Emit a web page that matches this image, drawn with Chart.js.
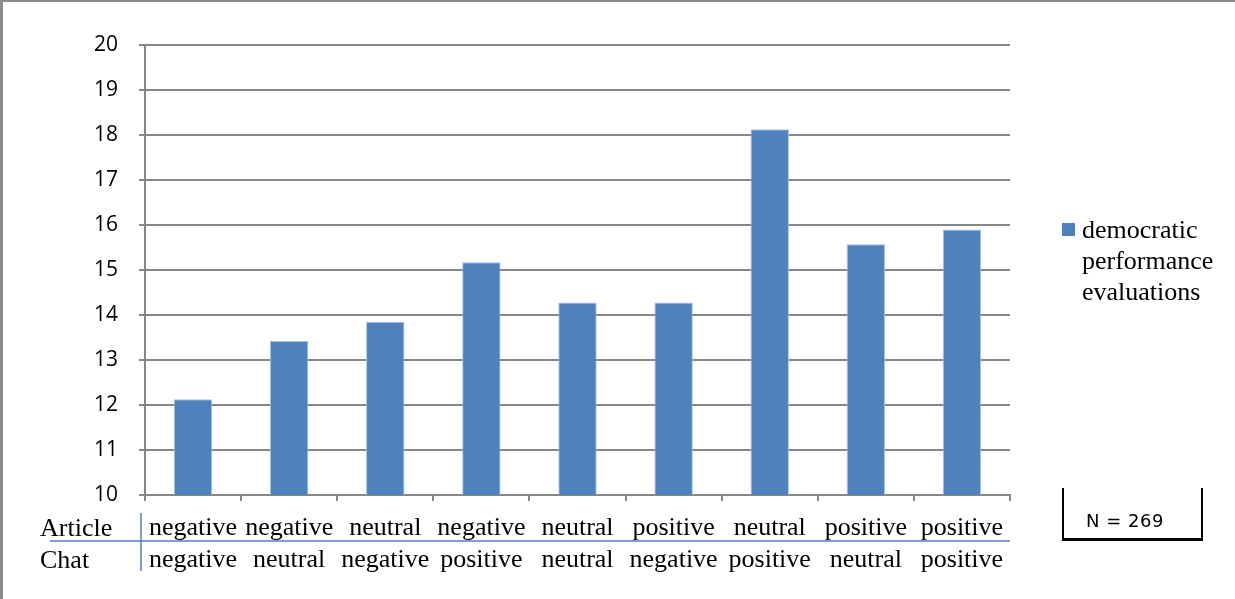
<!DOCTYPE html>
<html>
<head>
<meta charset="utf-8">
<script src="https://cdn.jsdelivr.net/npm/chart.js@4/dist/chart.umd.min.js"></script>
<style>
  html, body { margin: 0; padding: 0; background: #fff; }
  #wrap {
    position: relative; width: 1235px; height: 599px; overflow: hidden;
    box-sizing: border-box; border-left: 3px solid #8c8c8c; border-top: 2px solid #8c8c8c;
  }
  #chart { position: absolute; left: -3px; top: -2px; }
  #nbox {
    position: absolute; left: 1059px; top: 486px; width: 141px; height: 53px;
    box-sizing: border-box; border-left: 2px solid #000; border-right: 2px solid #000;
    border-bottom: 3px solid #000;
    font-family: "DejaVu Sans", sans-serif; font-size: 18px; color: #000;
  }
  #nbox span { position: absolute; left: 22px; top: 22px; letter-spacing: 0.5px; }
</style>
</head>
<body>
<div id="wrap">
  <canvas id="chart" width="1235" height="599"></canvas>
  <div id="nbox"><span>N = 269</span></div>
</div>
<script>
// Condition labels: article tone (first line) and chat tone (second line)
const articleTone = ['negative', 'negative', 'neutral', 'negative', 'neutral', 'positive', 'neutral', 'positive', 'positive'];
const chatTone    = ['negative', 'neutral', 'negative', 'positive', 'neutral', 'negative', 'positive', 'neutral', 'positive'];
const rowNames = ['Article', 'Chat'];

// Mean democratic performance evaluation per condition
const seriesName = 'democratic performance evaluations';
const evaluations = [12.13, 13.42, 13.85, 15.17, 14.28, 14.28, 18.13, 15.57, 15.9];

const yMin = 10, yMax = 20;
const barBlue = '#4F81BD';
const lineBlue = '#4F81BD';
const gridGray = '#878787';
const serif = '"Liberation Serif", "Times New Roman", serif';

const labels = articleTone.map((a, i) => [a, chatTone[i]]);

// Row captions, the table rules and a wrapped legend on the right
const tablePlugin = {
  id: 'conditionTable',
  afterDraw(chart) {
    const ctx = chart.ctx;
    const x = chart.scales.x;
    ctx.save();
    ctx.fillStyle = '#000';
    ctx.font = '26px ' + serif;
    ctx.textBaseline = 'middle';
    ctx.textAlign = 'left';
    ctx.fillText(rowNames[0], 40, 529);
    ctx.fillText(rowNames[1], 40, 561);

    ctx.strokeStyle = lineBlue;
    ctx.lineWidth = 1.5;
    ctx.beginPath();
    ctx.moveTo(50, 541);
    ctx.lineTo(x.right, 541);
    ctx.moveTo(141, 513);
    ctx.lineTo(141, 571);
    ctx.stroke();

    // legend
    const lx = chart.chartArea.right + 52;
    ctx.fillStyle = barBlue;
    ctx.fillRect(lx, 223, 13, 13);
    ctx.fillStyle = '#000';
    ctx.font = '26px ' + serif;
    const words = seriesName.split(' ');
    words.forEach((w, i) => ctx.fillText(w, lx + 20, 231 + i * 31));
    ctx.restore();
  }
};

new Chart(document.getElementById('chart'), {
  type: 'bar',
  data: {
    labels: labels,
    datasets: [{
      label: seriesName,
      data: evaluations,
      backgroundColor: barBlue,
      borderColor: '#a9c1e0',
      borderWidth: { top: 1, left: 1, right: 1, bottom: 0 },
      barPercentage: 0.4,
      categoryPercentage: 1.0
    }]
  },
  options: {
    responsive: false,
    animation: false,
    layout: { padding: { top: 45, right: 225, bottom: 0, left: 0 } },
    plugins: { legend: { display: false }, tooltip: { enabled: false } },
    scales: {
      x: {
        offset: true,
        grid: {
          offset: true, drawOnChartArea: false, drawTicks: true,
          tickLength: 6, color: gridGray, lineWidth: 2
        },
        border: { color: gridGray, width: 2 },
        ticks: {
          color: '#000', padding: 11, maxRotation: 0, autoSkip: false,
          font: { family: serif, size: 26, lineHeight: 1.23 }
        },
        afterFit(scale) { scale.height = 104; }
      },
      y: {
        min: yMin, max: yMax,
        grid: { color: gridGray, lineWidth: 2, tickLength: 6 },
        border: { color: gridGray, width: 2 },
        ticks: {
          stepSize: 1, color: '#000', padding: 21,
          font: { family: '"Open Sans", sans-serif', size: 21 }
        },
        afterFit(scale) { scale.width = 145; }
      }
    }
  },
  plugins: [tablePlugin]
});
</script>
</body>
</html>
